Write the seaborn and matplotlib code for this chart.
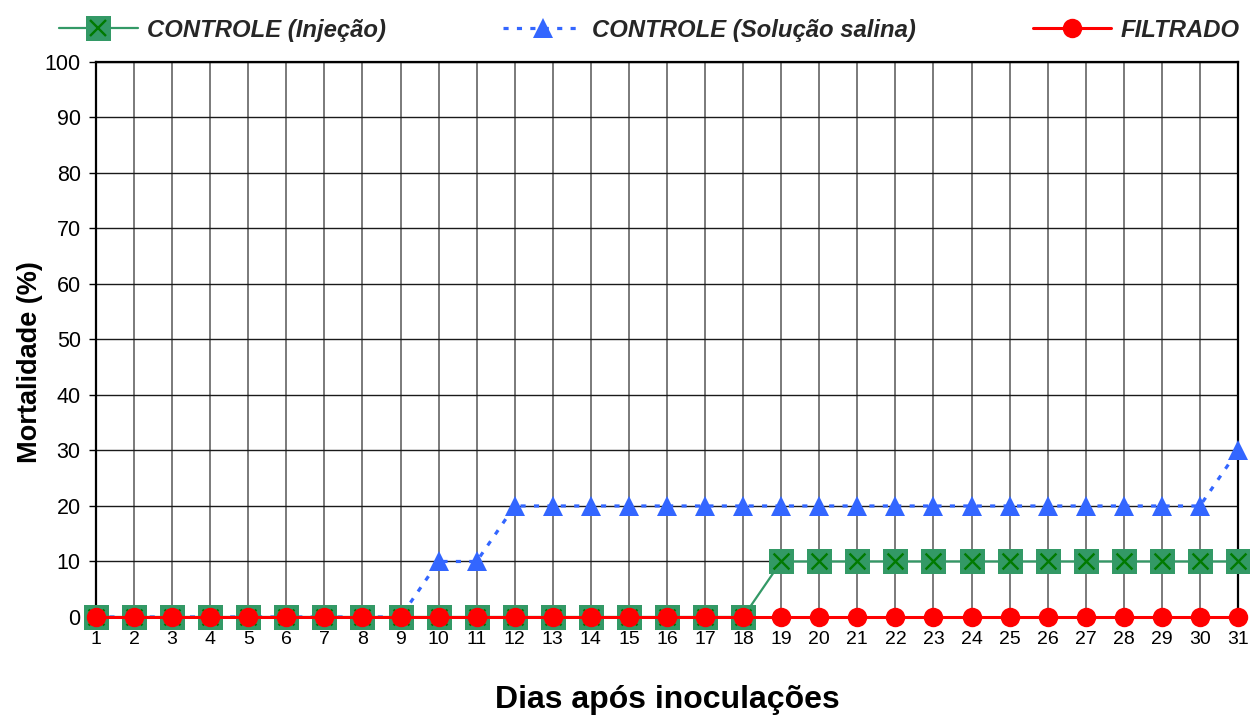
import matplotlib
matplotlib.use("Agg")
import matplotlib.pyplot as plt
import seaborn as sns
import pandas as pd
from matplotlib.lines import Line2D
from matplotlib.legend_handler import HandlerTuple

# Mortality (%) per day after inoculation
dias = list(range(1, 32))
controle_injecao = [0, 0, 0, 0, 0, 0, 0, 0, 0, 0, 0, 0, 0, 0, 0, 0, 0, 0,
                    10, 10, 10, 10, 10, 10, 10, 10, 10, 10, 10, 10, 10]
controle_salina = [0, 0, 0, 0, 0, 0, 0, 0, 0, 10, 10, 20, 20, 20, 20, 20, 20, 20,
                   20, 20, 20, 20, 20, 20, 20, 20, 20, 20, 20, 20, 30]
filtrado = [0, 0, 0, 0, 0, 0, 0, 0, 0, 0, 0, 0, 0, 0, 0, 0, 0, 0,
            0, 0, 0, 0, 0, 0, 0, 0, 0, 0, 0, 0, 0]

rotulos = ["CONTROLE (Injeção)", "CONTROLE (Solução salina)", "FILTRADO"]
y_ticks = list(range(0, 101, 10))

df = pd.DataFrame({
    "dia": dias,
    "injecao": controle_injecao,
    "salina": controle_salina,
    "filtrado": filtrado,
})

sns.set_theme(style="white")
plt.rcParams["font.family"] = ["Liberation Sans", "DejaVu Sans"]

VERDE = "#339966"
VERDE_X = "#007A00"
AZUL = "#3366FF"
VERMELHO = "#FF0000"
PONTILHADO = (0, (1.6, 2.6))

fig = plt.figure(figsize=(12.5, 7.15), dpi=100)
ax = fig.add_axes([0.0768, 0.1371, 0.9904 - 0.0768, 0.9133 - 0.1371])

# grid: grey verticals per day, black horizontals per 10 %
for d in dias:
    ax.axvline(d, color="#7a7a7a", lw=1.4, zorder=0)
for v in y_ticks[1:]:
    ax.axhline(v, color="#1a1a1a", lw=1.0, zorder=0)

sns.lineplot(data=df, x="dia", y="salina", ax=ax, color=AZUL, lw=2.3,
             linestyle=PONTILHADO, marker="^", markersize=14,
             markeredgewidth=0, clip_on=False, zorder=3)
sns.lineplot(data=df, x="dia", y="injecao", ax=ax, color=VERDE, lw=1.6,
             marker="s", markersize=18, markeredgewidth=0,
             clip_on=False, zorder=4)
sns.scatterplot(data=df, x="dia", y="injecao", ax=ax, marker="x", s=130,
                color=VERDE_X, linewidth=1.7, clip_on=False, zorder=5)
sns.lineplot(data=df, x="dia", y="filtrado", ax=ax, color=VERMELHO, lw=2.2,
             marker="o", markersize=14, markeredgewidth=0,
             clip_on=False, zorder=6)

ax.set_xlim(1, 31)
ax.set_ylim(0, 100)
ax.set_xticks(dias)
ax.set_xticklabels([str(d) for d in dias])
ax.set_yticks(y_ticks)
ax.set_yticklabels([str(v) for v in y_ticks])
ax.tick_params(axis="x", length=0, pad=10, labelsize=14, colors="black")
ax.tick_params(axis="y", length=5, width=1.0, pad=6, labelsize=15.5,
               colors="black", left=True, direction="out")

for side in ["left", "right", "top"]:
    ax.spines[side].set_visible(True)
    ax.spines[side].set_color("black")
    ax.spines[side].set_linewidth(1.6)
ax.spines["bottom"].set_visible(False)

ax.set_xlabel("Dias após inoculações", fontsize=23, fontweight="bold",
              color="black")
ax.xaxis.set_label_coords(0.5, -0.123)
ax.set_ylabel("Mortalidade (%)", fontsize=19.5, fontweight="bold",
              color="black")
ax.yaxis.set_label_coords(-0.046, 0.46)

h_inj = (Line2D([], [], color=VERDE, lw=1.6, marker="s", markersize=18,
                markeredgewidth=0),
         Line2D([], [], color=VERDE_X, ls="none", marker="x", markersize=11.5,
                markeredgewidth=1.7))
h_sal = Line2D([], [], color=AZUL, lw=2.3, linestyle=PONTILHADO, marker="^",
               markersize=14, markeredgewidth=0)
h_fil = Line2D([], [], color=VERMELHO, lw=2.2, marker="o", markersize=14,
               markeredgewidth=0)

fig.legend([h_inj, h_sal, h_fil], rotulos, ncol=3, loc="center",
           bbox_to_anchor=(0.5196, 0.958), frameon=False,
           prop={"size": 17.2, "weight": "bold", "style": "italic"},
           handlelength=3.3, handletextpad=0.4, columnspacing=4.9,
           handler_map={tuple: HandlerTuple(ndivide=1)})

fig.savefig("out.png", dpi=100)
